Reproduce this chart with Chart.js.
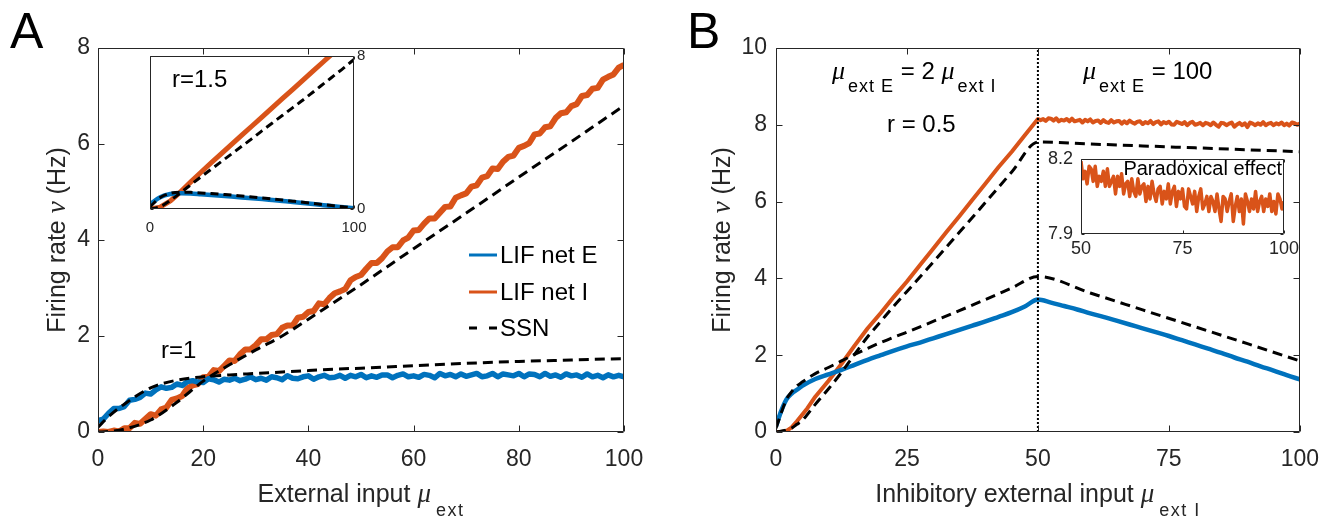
<!DOCTYPE html>
<html>
<head>
<meta charset="utf-8">
<script src="https://cdn.jsdelivr.net/npm/chart.js@4.4.1/dist/chart.umd.min.js"></script>
<style>
html,body{margin:0;padding:0;background:#fff;overflow:hidden;}
#fig{position:relative;width:1333px;height:518px;background:#fff;}
#fig canvas{position:absolute;}
</style>
</head>
<body>
<div id="fig">
<canvas id="cA" width="666" height="518" style="left:0px;top:0px;width:666px;height:518px"></canvas>
<canvas id="cB" width="667" height="518" style="left:666px;top:0px;width:667px;height:518px"></canvas>
<canvas id="cAi" width="250" height="210" style="left:130px;top:40px;width:250px;height:210px"></canvas>
<canvas id="cBi" width="275" height="130" style="left:1030px;top:140px;width:275px;height:130px"></canvas>
</div>
<script>
const SANS = "'Liberation Sans', Arial, Helvetica, sans-serif";
const SERIF = "'Liberation Serif', 'DejaVu Serif', serif";
const BLUE = '#0072BD', ORANGE = '#D95319', AXC = '#262626', INK = '#000000';

// ---------- Panel A (r = 1) ----------
const aTickX = [0, 20, 40, 60, 80, 100];
const aTickY = [0, 2, 4, 6, 8];
const aLifX = [0,1,2,3,4,5,6,7,8,9,10,11,12,13,14,15,16,17,18,19,20,21,22,23,24,25,26,27,28,29,30,31,32,33,34,35,36,37,38,39,40,41,42,43,44,45,46,47,48,49,50,51,52,53,54,55,56,57,58,59,60,61,62,63,64,65,66,67,68,69,70,71,72,73,74,75,76,77,78,79,80,81,82,83,84,85,86,87,88,89,90,91,92,93,94,95,96,97,98,99,100];
const aLifE = [0.24,0.27,0.39,0.49,0.49,0.53,0.66,0.68,0.72,0.81,
0.79,0.88,0.94,0.91,0.93,1.00,0.97,1.05,1.07,1.04,
1.03,1.11,1.09,1.04,1.10,1.08,1.12,1.07,1.10,1.15,
1.09,1.12,1.08,1.15,1.13,1.09,1.17,1.12,1.11,1.15,
1.17,1.10,1.15,1.18,1.13,1.14,1.18,1.12,1.18,1.15,
1.20,1.13,1.17,1.14,1.19,1.19,1.13,1.18,1.21,1.15,
1.17,1.14,1.20,1.18,1.13,1.22,1.17,1.20,1.15,1.21,
1.16,1.19,1.22,1.15,1.17,1.22,1.15,1.21,1.19,1.17,
1.22,1.15,1.21,1.20,1.15,1.22,1.16,1.19,1.14,1.21,
1.17,1.19,1.14,1.21,1.15,1.18,1.13,1.19,1.15,1.18,
1.15];
const aLifI = [0.00,0.01,0.00,0.03,0.01,0.08,0.08,0.19,0.17,0.27,
0.37,0.34,0.47,0.51,0.67,0.70,0.75,0.91,0.97,1.00,
1.14,1.15,1.29,1.27,1.38,1.49,1.48,1.62,1.72,1.72,
1.81,1.93,1.93,2.02,2.04,2.17,2.22,2.22,2.38,2.40,
2.50,2.52,2.68,2.66,2.79,2.89,2.93,2.98,3.16,3.23,
3.27,3.40,3.52,3.52,3.62,3.76,3.85,3.85,3.99,4.05,
4.20,4.21,4.34,4.45,4.45,4.57,4.69,4.70,4.88,4.93,
4.97,5.11,5.14,5.30,5.33,5.49,5.48,5.63,5.73,5.76,
5.92,5.96,6.02,6.20,6.22,6.35,6.37,6.54,6.64,6.66,
6.79,6.83,7.00,7.02,7.15,7.17,7.34,7.40,7.45,7.59,
7.65];
const aSsnX = [0,2,5,10,15,20,25,30,35,40,45,50,60,70,80,90,100];
const aSsnE = [0.10,0.32,0.58,0.92,1.08,1.15,1.19,1.22,1.25,1.28,1.31,1.33,1.38,1.43,1.47,1.50,1.53];
const aSsnI = [0,0.01,0.06,0.25,0.62,1.06,1.40,1.71,2.00,2.35,2.71,3.07,3.82,4.56,5.31,6.05,6.80];

// ---------- Inset A (r = 1.5) ----------
const aiTickX = [0, 100];
const aiTickY = [0, 8];
const aiX = [0,5,10,15,20,25,30,35,40,45,50,55,60,65,70,75,80,85,90,95,100];
const aiLifE = [0.25,0.62,0.78,0.83,0.81,0.77,0.73,0.69,0.65,0.60,0.56,0.52,0.47,0.42,0.37,0.31,0.26,0.20,0.14,0.09,0.04];
const aiSsnE = [0.12,0.60,0.82,0.88,0.87,0.84,0.81,0.77,0.73,0.68,0.63,0.58,0.53,0.47,0.41,0.35,0.29,0.23,0.17,0.11,0.05];
const aiLifI = [0,0.10,0.42,0.90,1.42,1.92,2.42,2.90,3.38,3.86,4.34,4.82,5.30,5.78,6.26,6.74,7.22,7.70,8.18,8.66,9.14];
const aiSsnI = [0,0.12,0.45,0.85,1.27,1.68,2.08,2.48,2.88,3.28,3.68,4.10,4.50,4.90,5.30,5.70,6.12,6.54,6.96,7.38,7.82];

// ---------- Panel B (r = 0.5) ----------
const bTickX = [0, 25, 50, 75, 100];
const bTickY = [0, 2, 4, 6, 8, 10];
const bLifEX = [0,1,2,3,4,5,7.5,10,12.5,15,17.5,20,22.5,25,27.5,30,32.5,35,37.5,40,42.5,45,47.5,50,52.5,55,57.5,60,62.5,65,67.5,70,72.5,75,77.5,80,82.5,85,87.5,90,92.5,95,97.5,100];
const bLifE = [0.15,0.55,0.85,1.00,1.10,1.20,1.38,1.50,1.62,1.75,1.88,2.00,2.12,2.23,2.33,2.44,2.55,2.66,2.77,2.88,3.00,3.12,3.27,3.45,3.37,3.28,3.19,3.09,3.00,2.90,2.80,2.70,2.60,2.50,2.39,2.28,2.17,2.06,1.94,1.83,1.71,1.60,1.48,1.37];
const bLifIX = [0,1,2,3,4,5,6,7.5,10,12.5,15,17.5,20,22.5,25,27.5,30,32.5,35,37.5,40,42.5,45,47.5,50];
const bLifI = [0,0,0.03,0.12,0.28,0.45,0.62,0.92,1.33,1.77,2.25,2.70,3.10,3.52,3.92,4.35,4.77,5.20,5.62,6.05,6.47,6.90,7.30,7.73,8.15];
const bSsnX = [0,2,3,4,5,7.5,10,12.5,15,17.5,20,22.5,25,30,35,40,45,50,60,70,80,90,100];
const bSsnE = [0.10,0.85,1.05,1.20,1.30,1.52,1.68,1.85,2.02,2.18,2.33,2.47,2.60,2.88,3.16,3.45,3.75,4.05,3.62,3.18,2.74,2.30,1.85];
const bSsnI = [0,0.05,0.10,0.20,0.30,0.72,1.12,1.55,2.02,2.48,2.88,3.28,3.66,4.42,5.20,5.98,6.77,7.55,7.50,7.45,7.40,7.35,7.30];
const bDivX = [50, 50];
const bDivY = [0, 10];

// ---------- Inset B (paradoxical effect) ----------
const biTickX = [50, 75, 100];
const biTickY = [7.9, 8.2];
const pdxX = [50,50.5,51,51.5,52,52.5,53,53.5,54,54.5,55,55.5,56,56.5,57,57.5,58,58.5,59,59.5,
60,60.5,61,61.5,62,62.5,63,63.5,64,64.5,65,65.5,66,66.5,67,67.5,68,68.5,69,69.5,
70,70.5,71,71.5,72,72.5,73,73.5,74,74.5,75,75.5,76,76.5,77,77.5,78,78.5,79,79.5,
80,80.5,81,81.5,82,82.5,83,83.5,84,84.5,85,85.5,86,86.5,87,87.5,88,88.5,89,89.5,
90,90.5,91,91.5,92,92.5,93,93.5,94,94.5,95,95.5,96,96.5,97,97.5,98,98.5,99,99.5,100];
const pdxY = [8.19,8.12,8.15,8.10,8.17,8.16,8.11,8.17,8.09,8.13,
8.11,8.15,8.09,8.16,8.09,8.11,8.13,8.06,8.13,8.09,
8.14,8.06,8.10,8.11,8.05,8.12,8.07,8.05,8.12,8.06,
8.09,8.10,8.03,8.09,8.04,8.11,8.06,8.03,8.08,8.09,
8.02,8.07,8.04,8.10,8.02,8.07,8.09,8.01,8.07,8.04,
8.08,8.01,8.00,8.08,8.05,8.02,8.07,7.99,8.05,8.08,
8.00,8.02,8.05,7.99,8.05,8.03,7.99,8.06,8.00,7.95,
8.05,8.04,7.99,8.03,8.06,7.95,8.01,8.05,7.99,8.04,
7.94,8.06,8.03,7.99,8.04,8.00,8.07,7.99,8.03,8.05,
7.99,8.04,8.01,8.06,7.99,8.03,7.98,8.06,8.04,8.00,
8.03];

// ---------- helpers ----------
const pts = (xs, ys) => xs.map((x, i) => ({x: x, y: ys[i]}));
function ds(label, data, color, width, dash, order, smooth, clip) {
  const d = { label: label, data: data, borderColor: color, backgroundColor: color, borderWidth: width,
    borderDash: dash || [], pointRadius: 0, pointHoverRadius: 0, fill: false, tension: 0,
    cubicInterpolationMode: smooth ? 'monotone' : 'default', order: order,
    borderCapStyle: 'butt', borderJoinStyle: 'round' };
  if (clip !== undefined) d.clip = clip;
  return d;
}
function axis(o) {
  return {
    type: 'linear', position: o.pos, min: o.min, max: o.max,
    afterBuildTicks: s => { s.ticks = o.ticks.map(v => ({value: v})); },
    afterFit: s => { if (o.w != null) s.width = o.w; if (o.h != null) s.height = o.h; },
    grid: {display: false, drawTicks: false},
    border: {display: false},
    ticks: {padding: o.pad, color: AXC, font: {family: SANS, size: o.fs}, autoSkip: false,
      maxRotation: 0, minRotation: 0, callback: v => String(v)}
  };
}
function rich(ctx, x, y, segs, align) {
  let total = 0;
  for (const s of segs) {
    ctx.font = s.f; ctx.letterSpacing = s.ls || '0px';
    s._w = (s.pre || 0) + ctx.measureText(s.t).width;
    total += s._w;
  }
  let cx = align === 'center' ? x - total / 2 : (align === 'right' ? x - total : x);
  ctx.textAlign = 'left';
  for (const s of segs) {
    ctx.font = s.f; ctx.letterSpacing = s.ls || '0px';
    ctx.fillText(s.t, cx + (s.pre || 0), y + (s.dy || 0));
    cx += s._w;
  }
  ctx.letterSpacing = '0px';
}
const boxPlugin = {
  id: 'boxTicks',
  beforeDraw(chart, args, opts) {
    if (!opts.bg) return;
    const a = chart.chartArea, ctx = chart.ctx;
    ctx.save(); ctx.fillStyle = '#ffffff';
    ctx.fillRect(a.left, a.top, a.right - a.left, a.bottom - a.top);
    ctx.restore();
  },
  afterDatasetsDraw(chart, args, opts) {
    const ctx = chart.ctx, a = chart.chartArea, x = chart.scales.x, y = chart.scales.y;
    const L = opts.len || 5;
    const l = Math.round(a.left) + 0.5, r = Math.round(a.right) - 0.5, t = Math.round(a.top) + 0.5, b = Math.round(a.bottom) - 0.5;
    ctx.save();
    ctx.strokeStyle = opts.color || AXC; ctx.lineWidth = 1; ctx.setLineDash([]);
    ctx.beginPath();
    ctx.rect(l, t, r - l, b - t);
    x.ticks.forEach(tk => {
      const px = Math.round(x.getPixelForValue(tk.value)) + 0.5;
      ctx.moveTo(px, b); ctx.lineTo(px, b - L);
      ctx.moveTo(px, t); ctx.lineTo(px, t + L);
    });
    y.ticks.forEach(tk => {
      const py = Math.round(y.getPixelForValue(tk.value)) + 0.5;
      ctx.moveTo(l, py); ctx.lineTo(l + L, py);
      ctx.moveTo(r, py); ctx.lineTo(r - L, py);
    });
    ctx.stroke();
    ctx.restore();
  }
};
function baseOpts(pad, scales, box) {
  return { responsive: false, animation: false, events: [], devicePixelRatio: 1,
    layout: {padding: pad}, scales: scales,
    plugins: {legend: {display: false}, tooltip: {enabled: false}, boxTicks: box} };
}
const F_LAB = '25px ' + SANS, F_MU = 'italic 27px ' + SERIF;
const F_SUB = '18px ' + SANS, F_TXT = '24px ' + SANS;

// ---------- Chart A ----------
const annA = {
  id: 'annA',
  afterDraw(chart) {
    const ctx = chart.ctx;
    ctx.save();
    ctx.textBaseline = 'alphabetic';
    ctx.fillStyle = INK; ctx.font = '50px ' + SANS; ctx.textAlign = 'left';
    ctx.fillText('A', 10, 48);
    ctx.fillStyle = AXC;
    ctx.save(); ctx.translate(65, 240); ctx.rotate(-Math.PI / 2);
    rich(ctx, 0, 0, [{t: 'Firing rate ', f: F_LAB}, {t: 'ν', f: F_MU}, {t: ' (Hz)', f: F_LAB}], 'center');
    ctx.restore();
    rich(ctx, 361, 502, [{t: 'External input ', f: F_LAB}, {t: 'μ', f: F_MU}, {t: 'ext', f: F_SUB, dy: 14, pre: 5, ls: '1.5px'}], 'center');
    ctx.fillStyle = INK; ctx.font = F_TXT; ctx.textAlign = 'left';
    ctx.fillText('r=1', 161, 358);
    // legend
    const rows = [['LIF net E', 255], ['LIF net I', 292], ['SSN', 328]];
    rows.forEach(([lab, yy]) => {
      const d = chart.data.datasets.find(q => q.label === lab);
      ctx.save();
      ctx.strokeStyle = d.borderColor; ctx.lineWidth = 3;
      ctx.setLineDash(d.borderDash.length ? [8, 12] : []);
      ctx.beginPath(); ctx.moveTo(469, yy); ctx.lineTo(497, yy); ctx.stroke();
      ctx.restore();
      ctx.fillStyle = INK; ctx.font = F_TXT; ctx.textBaseline = 'middle'; ctx.textAlign = 'left';
      ctx.fillText(lab, 500, yy + 1);
    });
    ctx.restore();
  }
};
new Chart(document.getElementById('cA'), {
  type: 'line',
  data: { datasets: [
    ds('SSN', pts(aSsnX, aSsnE), INK, 3, [10, 6], 0, true),
    ds('SSN I', pts(aSsnX, aSsnI), INK, 3, [10, 6], 0, true),
    ds('LIF net E', pts(aLifX, aLifE), BLUE, 5.5, null, 1, false),
    ds('LIF net I', pts(aLifX, aLifI), ORANGE, 6, null, 1, false)
  ]},
  options: baseOpts({left: 0, top: 48, right: 42, bottom: 0}, {
    x: axis({pos: 'bottom', min: 0, max: 100, ticks: aTickX, h: 86, pad: 14, fs: 23}),
    y: axis({pos: 'left', min: 0, max: 8, ticks: aTickY, w: 98, pad: 8, fs: 23})
  }, {len: 6}),
  plugins: [boxPlugin, annA]
});

// ---------- Inset A ----------
const annAi = {
  id: 'annAi',
  afterDraw(chart) {
    const ctx = chart.ctx;
    ctx.save(); ctx.fillStyle = INK; ctx.font = F_TXT; ctx.textAlign = 'left'; ctx.textBaseline = 'alphabetic';
    ctx.fillText('r=1.5', 42, 47);
    ctx.restore();
  }
};
new Chart(document.getElementById('cAi'), {
  type: 'line',
  data: { datasets: [
    ds('SSN E', pts(aiX, aiSsnE), INK, 3, [8, 5], 0, true, 0),
    ds('SSN I', pts(aiX, aiSsnI), INK, 3, [8, 5], 0, true, 0),
    ds('LIF net E', pts(aiX, aiLifE), BLUE, 4.5, null, 1, true, 0),
    ds('LIF net I', pts(aiX, aiLifI), ORANGE, 5, null, 1, false, 0)
  ]},
  options: baseOpts({left: 20, top: 16, right: 0, bottom: 0}, {
    x: axis({pos: 'bottom', min: 0, max: 100, ticks: aiTickX, h: 41, pad: 10, fs: 15}),
    y: axis({pos: 'right', min: 0, max: 8, ticks: aiTickY, w: 26, pad: 3, fs: 15})
  }, {len: 3, bg: true}),
  plugins: [boxPlugin, annAi]
});

// ---------- Chart B ----------
const annB = {
  id: 'annB',
  afterDraw(chart) {
    const ctx = chart.ctx;
    ctx.save();
    ctx.textBaseline = 'alphabetic';
    ctx.fillStyle = INK; ctx.font = '50px ' + SANS; ctx.textAlign = 'left';
    ctx.fillText('B', 21, 48);
    ctx.fillStyle = AXC;
    ctx.save(); ctx.translate(64, 240); ctx.rotate(-Math.PI / 2);
    rich(ctx, 0, 0, [{t: 'Firing rate ', f: F_LAB}, {t: 'ν', f: F_MU}, {t: ' (Hz)', f: F_LAB}], 'center');
    ctx.restore();
    rich(ctx, 372, 502, [{t: 'Inhibitory external input ', f: F_LAB}, {t: 'μ', f: F_MU}, {t: 'ext I', f: F_SUB, dy: 14, pre: 5, ls: '1.5px'}], 'center');
    ctx.fillStyle = INK;
    rich(ctx, 166, 79, [{t: 'μ', f: 'italic 26px ' + SERIF}, {t: 'ext E', f: F_SUB, dy: 13, pre: 3, ls: '1px'},
      {t: ' = 2 ', f: F_TXT}, {t: 'μ', f: 'italic 26px ' + SERIF}, {t: 'ext I', f: F_SUB, dy: 13, pre: 3, ls: '1px'}], 'left');
    rich(ctx, 417, 79, [{t: 'μ', f: 'italic 26px ' + SERIF}, {t: 'ext E', f: F_SUB, dy: 13, pre: 3, ls: '1px'},
      {t: ' = 100', f: F_TXT}], 'left');
    ctx.font = F_TXT; ctx.textAlign = 'left';
    ctx.fillText('r = 0.5', 221, 132);
    ctx.restore();
  }
};
new Chart(document.getElementById('cB'), {
  type: 'line',
  data: { datasets: [
    ds('divider', pts(bDivX, bDivY), INK, 2, [2, 2], 0, false),
    ds('SSN E', pts(bSsnX, bSsnE), INK, 3, [10, 6], 0, true),
    ds('SSN I', pts(bSsnX, bSsnI), INK, 3, [10, 6], 0, true),
    ds('LIF net E', pts(bLifEX, bLifE), BLUE, 4.5, null, 1, true),
    ds('LIF net I', pts(bLifIX, bLifI).concat(pts(pdxX.slice(1), pdxY.slice(1))), ORANGE, 4, null, 1, false)
  ]},
  options: baseOpts({left: 0, top: 48, right: 32, bottom: 0}, {
    x: axis({pos: 'bottom', min: 0, max: 100, ticks: bTickX, h: 86, pad: 14, fs: 23}),
    y: axis({pos: 'left', min: 0, max: 10, ticks: bTickY, w: 110, pad: 9, fs: 23})
  }, {len: 6}),
  plugins: [boxPlugin, annB]
});

// ---------- Inset B ----------
const annBi = {
  id: 'annBi',
  afterDraw(chart) {
    const ctx = chart.ctx;
    ctx.save(); ctx.fillStyle = INK; ctx.font = '20px ' + SANS; ctx.textAlign = 'right'; ctx.textBaseline = 'alphabetic';
    ctx.fillText('Paradoxical effect', 252, 35);
    ctx.restore();
  }
};
new Chart(document.getElementById('cBi'), {
  type: 'line',
  data: { datasets: [
    ds('LIF net I', pts(pdxX, pdxY), ORANGE, 3.5, null, 1, false, 0)
  ]},
  options: baseOpts({left: 0, top: 18, right: 21, bottom: 0}, {
    x: axis({pos: 'bottom', min: 50, max: 100, ticks: biTickX, h: 36, pad: 4, fs: 18}),
    y: axis({pos: 'left', min: 7.9, max: 8.2, ticks: biTickY, w: 51, pad: 8, fs: 18})
  }, {len: 3, bg: true}),
  plugins: [boxPlugin, annBi]
});
</script>
</body>
</html>
